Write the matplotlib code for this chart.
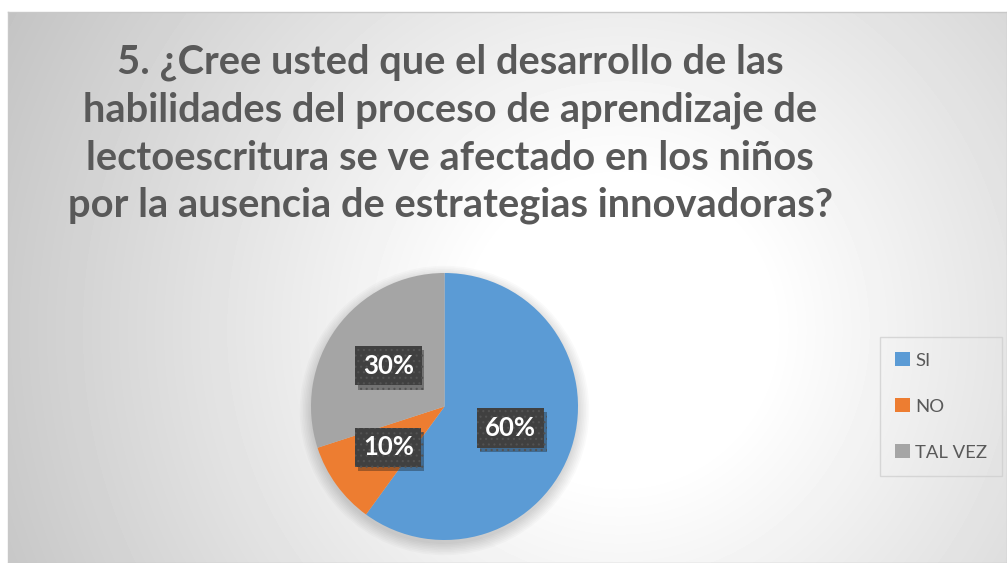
import matplotlib

matplotlib.use("Agg")
import matplotlib.pyplot as plt
import matplotlib.patheffects as pe
from matplotlib.patches import Circle
import numpy as np

# data
categories = ["SI", "NO", "TAL VEZ"]
values = [60, 10, 30]
colors = ["#5B9BD5", "#ED7D31", "#A5A5A5"]
title = (
    "5. ¿Cree usted que el desarrollo de las\n"
    "habilidades del proceso de aprendizaje de\n"
    "lectoescritura se ve afectado en los niños\n"
    "por la ausencia de estrategias innovadoras?"
)

plt.rcParams["font.family"] = ["Lato", "DejaVu Sans"]

W, H = 1007, 563
fig = plt.figure(figsize=(W / 100, H / 100), dpi=100)

# chart area with radial gradient
bg = fig.add_axes([8 / W, 0, 1 - 8 / W, 1 - 12 / H])
yy, xx = np.mgrid[12:563, 8:1007]
d = np.hypot(xx - 620, yy - 330)
shade = 1 - np.clip((d - 150) / 570, 0, 1) * (63 / 255)
bg.imshow(shade, cmap="gray", vmin=0, vmax=1, aspect="auto", extent=[0, 1, 0, 1])
bg.set_xticks([])
bg.set_yticks([])
for s in bg.spines.values():
    s.set_color("#c8c8c8")
    s.set_linewidth(1)

# pie
r, cx, cy = 133.5, 444.5, 406.5
ax = fig.add_axes([(cx - r) / W, 1 - (cy + r) / H, 2 * r / W, 2 * r / H])
for i in range(8):
    ax.add_patch(Circle((0, -0.03), 1 + 0.012 * i, color="black", alpha=0.02,
                        zorder=0, clip_on=False, linewidth=0))
wedges, texts, autotexts = ax.pie(
    values,
    colors=colors,
    startangle=90,
    counterclock=False,
    autopct="%d%%",
    pctdistance=0.52,
    wedgeprops=dict(linewidth=0),
)
ax.set_xlim(-1, 1)
ax.set_ylim(-1, 1)

plt.rcParams["hatch.linewidth"] = 0.8
for t in autotexts:
    t.set_color("white")
    t.set_fontsize(18.5)
    t.set_fontweight("bold")
    t.set_bbox(dict(boxstyle="square,pad=0.3", facecolor="#404040",
                    edgecolor="#525252", hatch="...", linewidth=0))
    t.get_bbox_patch().set_path_effects(
        [pe.SimplePatchShadow(offset=(2, -3), alpha=0.35), pe.Normal()]
    )

fig.text(450 / W, 1 - 134 / H, title, ha="center", va="center", fontsize=28.7,
         fontweight="bold", color="#595959", linespacing=1.35)

fig.legend(
    wedges,
    categories,
    loc="center left",
    bbox_to_anchor=(880 / W, 1 - 406.5 / H),
    borderaxespad=0,
    frameon=True,
    fancybox=False,
    edgecolor="#d0d0d0",
    facecolor="none",
    fontsize=13.3,
    labelcolor="#595959",
    handlelength=0.8,
    handleheight=0.8,
    handletextpad=0.3,
    labelspacing=1.6,
    borderpad=0.8,
)

fig.savefig("out.png", dpi=100)
